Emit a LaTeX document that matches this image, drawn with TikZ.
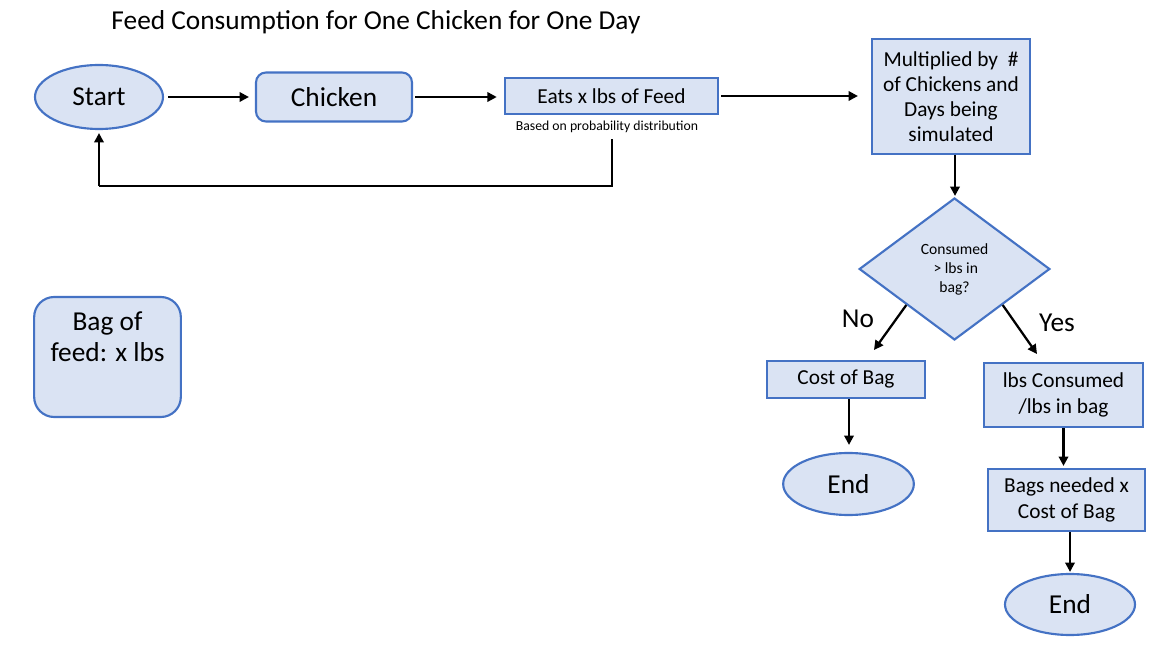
\documentclass[tikz,border=0pt]{standalone}
\usepackage{fontspec}
\setmainfont{Carlito}
\usetikzlibrary{shapes.geometric,arrows.meta,calc}
\definecolor{boxfill}{RGB}{218,227,243}
\definecolor{boxline}{RGB}{68,114,196}
\tikzset{
  base/.style={draw=boxline,fill=boxfill,line width=1.6pt,align=center,inner sep=2pt},
  term/.style={base,ellipse,font=\fontsize{20.5}{24}\selectfont},
  rbox/.style={base,rectangle,rounded corners=7.5pt,font=\fontsize{20.5}{24}\selectfont},
  pbox/.style={base,rectangle,font=\fontsize{16}{19}\selectfont},
  dec/.style={base,diamond,inner sep=0pt,font=\fontsize{11.7}{14.25}\selectfont},
  conn/.style={line width=1.7pt,-{Triangle[length=7pt,width=7pt]}},
  plainline/.style={line width=1.7pt},
  lab/.style={font=\fontsize{20.5}{24}\selectfont,inner sep=0pt}
}
\begin{document}
\begin{tikzpicture}[x=0.75pt,y=-0.75pt]
\useasboundingbox (0,0) rectangle (1171,666);
\node[font=\fontsize{20.5}{24}\selectfont,inner sep=0pt] (title) at (376,22) {Feed Consumption for One Chicken for One Day};
\node[term,minimum width=96pt,minimum height=48pt] (start) at (99,97) {Start};
\node[rbox,minimum width=117pt,minimum height=36.75pt] (chicken) at (334,97) {Chicken};
\node[pbox,minimum width=160pt,minimum height=27pt] (eats) at (611.5,96) {Eats x lbs of Feed};
\node[font=\fontsize{10.3}{12}\selectfont,inner sep=1pt] (note) at (607,127) {Based on probability distribution};
\node[pbox,minimum width=118.5pt,minimum height=86pt,font=\fontsize{16}{18.75}\selectfont] (mult) at (951,96.5) {Multiplied by~ \#\\of Chickens and\\Days being\\simulated};
\node[dec,minimum width=143pt,minimum height=106.5pt] (dia) at (954.5,269) {Consumed\\\,> lbs in\\bag?};
\node[pbox,minimum width=118.5pt,minimum height=27.75pt] (cost) at (846,379.5) {Cost of Bag};
\node[term,minimum width=98pt,minimum height=46.5pt] (end1) at (848.5,484) {End};
\node[pbox,minimum width=119pt,minimum height=48pt,font=\fontsize{16}{19.5}\selectfont] (lbs) at (1063.5,395) {lbs Consumed\\/lbs in bag};
\node[pbox,minimum width=118pt,minimum height=46.5pt,font=\fontsize{16}{19}\selectfont] (bags) at (1066.5,500) {Bags needed x\\Cost of Bag};
\node[term,minimum width=97.5pt,minimum height=45.75pt] (end2) at (1070,604.5) {End};
\node[rbox,rounded corners=15pt,minimum width=110pt,minimum height=90pt,font=\fontsize{20.5}{23.25}\selectfont] (bag) at (107.5,357) {Bag of\\feed: x lbs\\\strut};
\node[lab] (no) at (858,319) {No};
\node[lab] (yes) at (1057,323) {Yes};
% connectors
\draw[conn] ($(start.east)+(4,0)$) -- ($(chicken.west)+(-6,0)$);
\draw[conn] ($(chicken.east)+(2,0)$) -- ($(chicken.east -| eats.west)+(-7,0)$);
\draw[conn] ($(eats.east)+(2,0)$) -- ($(eats.east -| mult.west)+(-13,0)$);
\coordinate (fb0) at ($(note.south)+(5,5)$);
\coordinate (fb1) at (fb0 |- 0,186);
\coordinate (fb2) at (start.south |- 0,186);
\draw[plainline] (fb0) -- (fb1) -- (fb2);
\draw[conn] (fb2) -- ($(start.south)+(0,3)$);
\draw[conn] ($(mult.south)+(4,0)$) -- ($(mult.south |- dia.north)+(4,-1)$);
\coordinate (noend) at (874,350);
\coordinate (yesend) at (1037,354);
\draw[conn] ($(dia.west)!0.5!(dia.south)$) -- (noend);
\draw[conn] ($(dia.south)!0.5!(dia.east)$) -- (yesend);
\draw[conn] ($(cost.south)+(3,0)$) -- ($(cost.south |- end1.north)+(3,-7)$);
\draw[conn] (lbs.south) -- ($(lbs.south |- bags.north)+(0,-2)$);
\draw[conn] ($(bags.south)+(3.5,0)$) -- ($(bags.south |- end2.north)+(3.5,-1)$);
\end{tikzpicture}
\end{document}
